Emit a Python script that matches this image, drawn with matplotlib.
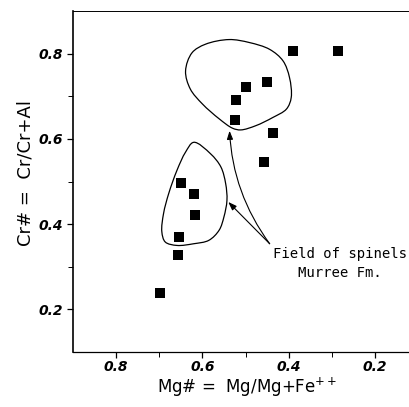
import numpy as np
import matplotlib
matplotlib.use("Agg")
import matplotlib.pyplot as plt
from matplotlib.path import Path
from matplotlib.patches import PathPatch
from matplotlib.ticker import FixedLocator

# ---- data ----
mg_number = [0.285, 0.390, 0.451, 0.498, 0.523, 0.524, 0.437, 0.458,
             0.650, 0.620, 0.616, 0.655, 0.657, 0.699]
cr_number = [0.805, 0.805, 0.734, 0.722, 0.691, 0.644, 0.614, 0.545,
             0.496, 0.470, 0.421, 0.369, 0.327, 0.238]

# outlines of the two "Field of spinels, Murree Fm." regions
upper_field_mg = [0.639, 0.624, 0.593, 0.538, 0.491, 0.444, 0.413, 0.398,
                  0.394, 0.405, 0.437, 0.476, 0.511, 0.530, 0.561, 0.600,
                  0.628]
upper_field_cr = [0.759, 0.802, 0.822, 0.833, 0.826, 0.810, 0.783, 0.744,
                  0.697, 0.670, 0.650, 0.631, 0.621, 0.625, 0.647, 0.682,
                  0.717]
lower_field_mg = [0.620, 0.581, 0.557, 0.546, 0.543, 0.550, 0.561,
                  0.585, 0.620, 0.659, 0.686, 0.694, 0.690, 0.678, 0.659,
                  0.639]
lower_field_cr = [0.592, 0.565, 0.534, 0.495, 0.456, 0.417, 0.386,
                  0.362, 0.354, 0.350, 0.358, 0.382, 0.425, 0.472, 0.526,
                  0.569]

x_ticks = [0.8, 0.6, 0.4, 0.2]
y_ticks = [0.2, 0.4, 0.6, 0.8]
x_minor = [0.7, 0.5, 0.3]
y_minor = [0.3, 0.5, 0.7]
x_tick_labels = ["0.8", "0.6", "0.4", "0.2"]
y_tick_labels = ["0.2", "0.4", "0.6", "0.8"]

field_label = "Field of spinels\nMurree Fm."
label_anchor = (0.444, 0.354)
arrow_head_lower = (0.540, 0.452)
arrow_head_upper = (0.537, 0.619)


def closed_smooth_path(xs, ys, alpha=0.5):
    """Closed centripetal Catmull-Rom curve through the outline points,
    expressed as cubic Bezier segments."""
    pts = np.column_stack([xs, ys])
    n = len(pts)
    verts = [pts[0]]
    codes = [Path.MOVETO]
    for i in range(n):
        p0, p1 = pts[i - 1], pts[i]
        p2, p3 = pts[(i + 1) % n], pts[(i + 2) % n]
        d1 = np.linalg.norm(p1 - p0) ** alpha
        d2 = np.linalg.norm(p2 - p1) ** alpha
        d3 = np.linalg.norm(p3 - p2) ** alpha
        m1 = ((p1 - p0) / d1 - (p2 - p0) / (d1 + d2) + (p2 - p1) / d2) * d2
        m2 = ((p2 - p1) / d2 - (p3 - p1) / (d2 + d3) + (p3 - p2) / d3) * d2
        verts += [p1 + m1 / 3.0, p2 - m2 / 3.0, p2]
        codes += [Path.CURVE4] * 3
    return Path(verts, codes)


fig = plt.figure(figsize=(4.09, 4.07), dpi=100)
ax = fig.add_axes([73 / 409, 55 / 407, 345 / 409, 341 / 407])

ax.plot(mg_number, cr_number, linestyle="none", marker="s",
        markersize=7, color="black", markeredgewidth=0)

for xs, ys in [(upper_field_mg, upper_field_cr), (lower_field_mg, lower_field_cr)]:
    ax.add_patch(PathPatch(closed_smooth_path(xs, ys), facecolor="none",
                           edgecolor="black", linewidth=0.9))

ax.annotate("", xy=arrow_head_lower, xytext=label_anchor,
            arrowprops=dict(arrowstyle="-|>,head_length=0.5,head_width=0.18",
                            color="black", lw=0.8,
                            connectionstyle="arc3,rad=0.0",
                            shrinkA=0, shrinkB=0))
ax.annotate("", xy=arrow_head_upper, xytext=label_anchor,
            arrowprops=dict(arrowstyle="-|>,head_length=0.5,head_width=0.18",
                            color="black", lw=0.8,
                            connectionstyle="arc3,rad=-0.15",
                            shrinkA=0, shrinkB=0))

ax.text(0.280, 0.346, field_label, ha="center", va="top",
        multialignment="center", fontsize=10, family="DejaVu Sans Mono",
        linespacing=1.45)

ax.set_xlim(0.9, 0.1)
ax.set_ylim(0.1, 0.9)

ax.xaxis.set_major_locator(FixedLocator(x_ticks))
ax.yaxis.set_major_locator(FixedLocator(y_ticks))
ax.set_xticklabels(x_tick_labels)
ax.set_yticklabels(y_tick_labels)
ax.xaxis.set_minor_locator(FixedLocator(x_minor))
ax.yaxis.set_minor_locator(FixedLocator(y_minor))

for lab in ax.get_xticklabels() + ax.get_yticklabels():
    lab.set_fontweight("bold")
    lab.set_fontstyle("italic")
    lab.set_fontsize(10)

ax.tick_params(axis="both", which="major", direction="out", length=4.5,
               width=0.9, color="black")
ax.tick_params(axis="both", which="minor", direction="out", length=3.5,
               width=0.7, color="black")
ax.tick_params(axis="x", which="major", pad=1.5)
ax.tick_params(axis="y", which="major", pad=3)

ax.spines["right"].set_visible(False)
ax.spines["top"].set_linewidth(0.7)
ax.spines["left"].set_linewidth(1.2)
ax.spines["bottom"].set_linewidth(0.9)

ax.set_xlabel("Mg# =  Mg/Mg+Fe$^{++}$", fontsize=12)
ax.set_ylabel("Cr# =  Cr/Cr+Al", fontsize=13)
ax.xaxis.set_label_coords((247 - 73) / 345, -(387 - 352) / 341)
ax.yaxis.set_label_coords(-(73 - 26) / 345, (352 - 173) / 341)
ax.xaxis.label.set_va("center")
ax.yaxis.label.set_va("center")

fig.savefig("out.png", dpi=100)
